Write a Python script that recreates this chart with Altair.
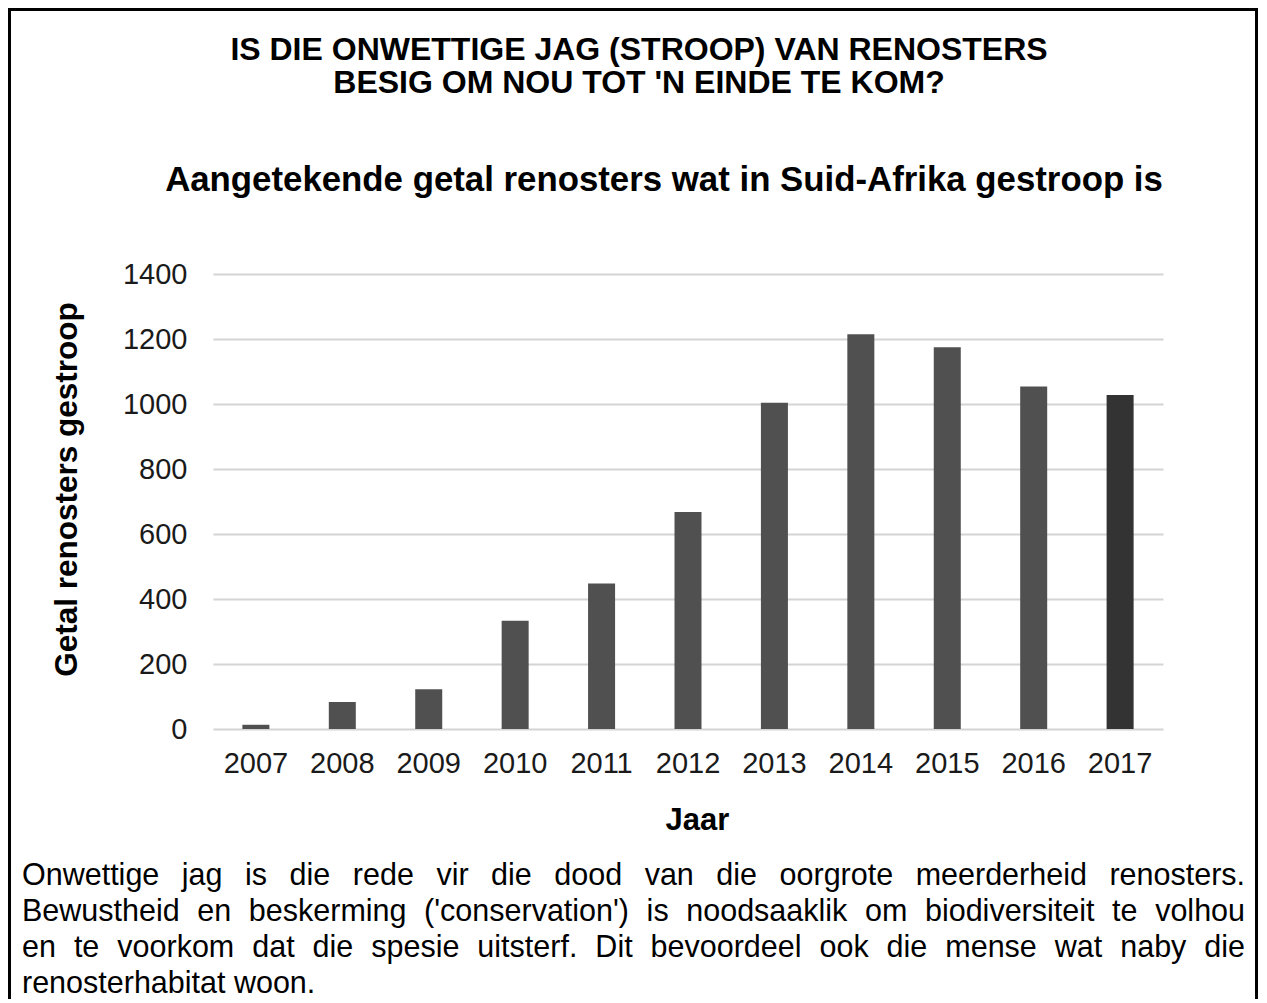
import altair as alt
import pandas as pd

# ---------------- data ----------------
years = ["2007", "2008", "2009", "2010", "2011", "2012", "2013", "2014", "2015", "2016", "2017"]
poached = [13, 83, 122, 333, 448, 668, 1004, 1215, 1175, 1054, 1028]
bar_colors = ["#505050"] * 10 + ["#333333"]
y_ticks = [0, 200, 400, 600, 800, 1000, 1200, 1400]

title_lines = ["IS DIE ONWETTIGE JAG (STROOP) VAN RENOSTERS",
               "BESIG OM NOU TOT 'N EINDE TE KOM?"]
subtitle = "Aangetekende getal renosters wat in Suid-Afrika gestroop is"
x_title = "Jaar"
y_title = "Getal renosters gestroop"
paragraph_lines = [
    "Onwettige jag is die rede vir die dood van die oorgrote meerderheid renosters.",
    "Bewustheid en beskerming ('conservation') is noodsaaklik om biodiversiteit te volhou",
    "en te voorkom dat die spesie uitsterf. Dit bevoordeel ook die mense wat naby die",
    "renosterhabitat woon.",
]

# ---------------- layout ----------------
FONT = "Liberation Sans, Arial, Helvetica, sans-serif"
W, H = 950, 455
PAD_L, PAD_T, PAD_R, PAD_B = 205, 266, 96, 270

# Arial / Liberation Sans advance widths (per 1000 em) for justification
AW = {" ": 278, "'": 191, "(": 333, ")": 333, ",": 278, "-": 333, ".": 278, "?": 556,
      "A": 667, "B": 667, "C": 722, "D": 722, "E": 667, "F": 611, "G": 778, "H": 722,
      "I": 278, "J": 500, "K": 667, "L": 556, "M": 833, "N": 722, "O": 778, "P": 667,
      "R": 722, "S": 667, "T": 611, "U": 722, "V": 667, "W": 944,
      "a": 556, "b": 556, "c": 500, "d": 556, "e": 556, "f": 278, "g": 556, "h": 556,
      "i": 222, "j": 222, "k": 500, "l": 222, "m": 833, "n": 556, "o": 556, "p": 556,
      "q": 556, "r": 333, "s": 500, "t": 278, "u": 556, "v": 500, "w": 722, "x": 500,
      "y": 500, "z": 500}


def tw(s, size):
    return sum(AW.get(c, 556) for c in s) * size / 1000.0


PARA_SIZE = 30.5
para_left = 22 - 213
para_right = 1245 - 213
para_base = [885 - 274, 921 - 274, 957 - 274, 993 - 274]

rows = []
for i, line in enumerate(paragraph_lines):
    words = line.split(" ")
    widths = [tw(w, PARA_SIZE) for w in words]
    if i < len(paragraph_lines) - 1 and len(words) > 1:
        gap = (para_right - para_left - sum(widths)) / (len(words) - 1)
    else:
        gap = tw(" ", PARA_SIZE)
    x = para_left
    for w, wd in zip(words, widths):
        rows.append({"word": w, "px": x, "py": para_base[i]})
        x += wd + gap
para_df = pd.DataFrame(rows)

df = pd.DataFrame({"Jaar": years, "Gestroop": poached, "kleur": bar_colors})

bars = alt.Chart(df).mark_bar().encode(
    x=alt.X("Jaar:N", sort=years,
            scale=alt.Scale(paddingInner=0.6875, paddingOuter=0.34),
            axis=alt.Axis(title=x_title, labelAngle=0, labelFont=FONT, labelFontSize=29,
                          labelColor="#1a1a1a", labelPadding=20, ticks=False, domain=False,
                          grid=False, titleFont=FONT, titleFontSize=31, titleFontWeight="bold",
                          titleColor="#000000", titleX=484, titleY=100, titleAlign="center",
                          titleBaseline="alphabetic")),
    y=alt.Y("Gestroop:Q", scale=alt.Scale(domain=[0, 1400]),
            axis=alt.Axis(values=y_ticks, format="d", title=y_title, labelFont=FONT,
                          labelFontSize=29, labelColor="#1a1a1a", labelPadding=26,
                          ticks=False, domain=False,
                          grid=True, gridColor="#d4d4d4", gridWidth=2,
                          titleFont=FONT, titleFontSize=31.5, titleFontWeight="bold",
                          titleColor="#000000", titleAngle=270, titleX=-137, titleY=215,
                          titleAlign="center", titleBaseline="alphabetic")),
    color=alt.Color("kleur:N", scale=None),
)

title_df = pd.DataFrame({"t": title_lines, "py": [60 - 274, 93 - 274]})
title_layer = alt.Chart(title_df).mark_text(
    font=FONT, fontSize=32, fontWeight="bold", align="center", baseline="alphabetic",
    color="#000000"
).encode(x=alt.value(639 - 213), y=alt.Y("py:Q", scale=None), text="t:N")

sub_layer = alt.Chart(pd.DataFrame({"t": [subtitle]})).mark_text(
    font=FONT, fontSize=34.8, fontWeight="bold", align="center", baseline="alphabetic",
    color="#000000"
).encode(x=alt.value(664 - 213), y=alt.value(191 - 274), text="t:N")

para_layer = alt.Chart(para_df).mark_text(
    font=FONT, fontSize=PARA_SIZE, align="left", baseline="alphabetic", color="#000000"
).encode(x=alt.X("px:Q", scale=None), y=alt.Y("py:Q", scale=None), text="word:N")

border = alt.Chart(pd.DataFrame({"b": [0]})).mark_rect(
    filled=False, stroke="#000000", strokeWidth=3
).encode(x=alt.value(9.5 - 213), x2=alt.value(1256.5 - 213),
         y=alt.value(9.5 - 274), y2=alt.value(1040 - 274))

chart = alt.layer(bars, title_layer, sub_layer, para_layer, border).resolve_scale(
    x="independent", y="independent"
).properties(
    width=W, height=H,
    autosize=alt.AutoSizeParams(type="none"),
    padding={"left": PAD_L, "top": PAD_T, "right": PAD_R, "bottom": PAD_B},
    background="#ffffff",
).configure_view(strokeWidth=0)

chart.save("out.html", embed_options={"renderer": "svg", "actions": False})
